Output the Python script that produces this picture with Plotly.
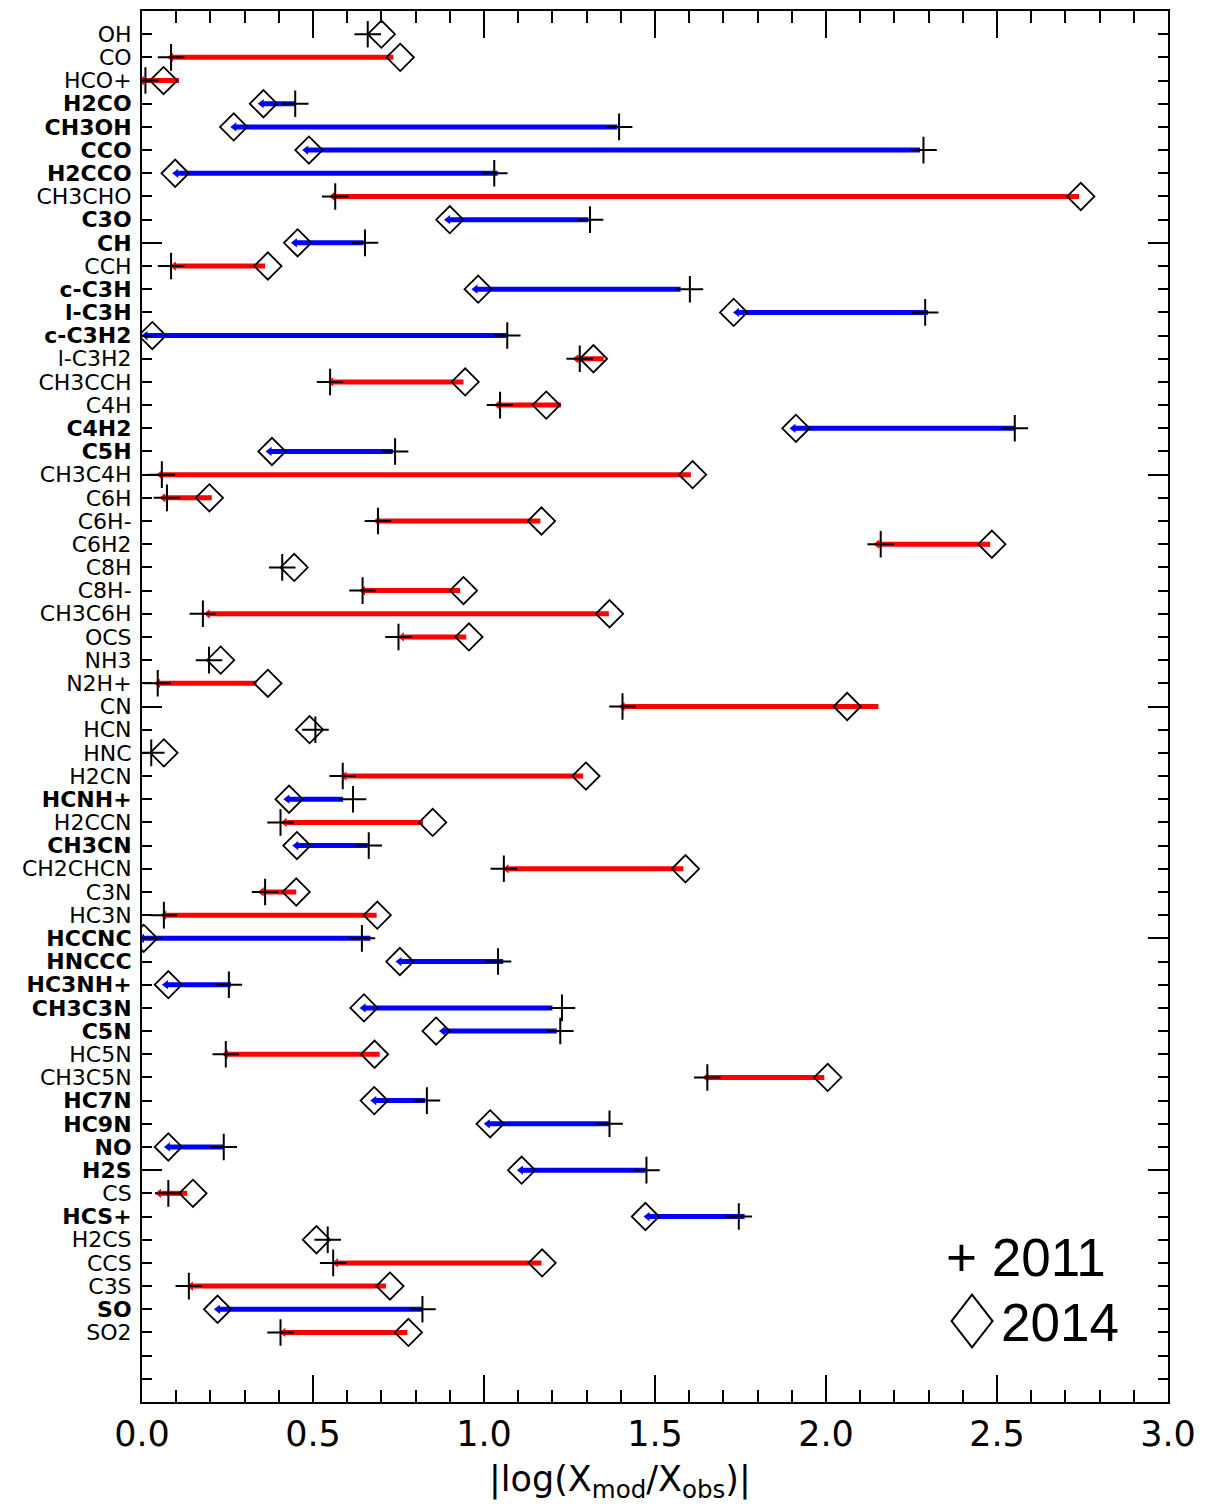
import plotly.graph_objects as go

# ---------------- data ----------------
species = ["OH", "CO", "HCO+", "H2CO", "CH3OH", "CCO", "H2CCO", "CH3CHO", "C3O", "CH",
           "CCH", "c-C3H", "l-C3H", "c-C3H2", "l-C3H2", "CH3CCH", "C4H", "C4H2", "C5H", "CH3C4H",
           "C6H", "C6H-", "C6H2", "C8H", "C8H-", "CH3C6H", "OCS", "NH3", "N2H+", "CN",
           "HCN", "HNC", "H2CN", "HCNH+", "H2CCN", "CH3CN", "CH2CHCN", "C3N", "HC3N", "HCCNC",
           "HNCCC", "HC3NH+", "CH3C3N", "C5N", "HC5N", "CH3C5N", "HC7N", "HC9N", "NO", "H2S",
           "CS", "HCS+", "H2CS", "CCS", "C3S", "SO", "SO2"]

# species shown in bold
bold_label = [0, 0, 0, 1, 1, 1, 1, 0, 1, 1,
              0, 1, 1, 1, 0, 0, 0, 1, 1, 0,
              0, 0, 0, 0, 0, 0, 0, 0, 0, 0,
              0, 0, 0, 1, 0, 1, 0, 0, 0, 1,
              1, 1, 1, 1, 0, 0, 1, 1, 1, 1,
              0, 1, 0, 0, 0, 1, 0]

x2011 = [0.66, 0.085, 0.010, 0.448, 1.395, 2.285, 1.030, 0.565, 1.310, 0.652,
         0.085, 1.602, 2.290, 1.068, 1.280, 0.550, 1.047, 2.552, 0.740, 0.058,
         0.073, 0.690, 2.160, 0.410, 0.645, 0.178, 0.750, 0.196, 0.046, 1.405,
         0.507, 0.027, 0.587, 0.617, 0.405, 0.663, 1.058, 0.360, 0.064, 0.643,
         1.041, 0.254, 1.228, 1.223, 0.245, 1.653, 0.833, 1.367, 0.239, 1.475,
         0.077, 1.745, 0.543, 0.559, 0.137, 0.820, 0.405]

x2014 = [0.70, 0.755, 0.063, 0.355, 0.268, 0.488, 0.097, 2.745, 0.900, 0.455,
         0.368, 0.983, 1.730, 0.030, 1.320, 0.945, 1.182, 1.912, 0.380, 1.610,
         0.197, 1.168, 2.485, 0.445, 0.940, 1.367, 0.956, 0.230, 0.368, 2.062,
         0.490, 0.064, 1.298, 0.430, 0.850, 0.453, 1.589, 0.451, 0.688, 0.005,
         0.754, 0.077, 0.649, 0.860, 0.680, 2.005, 0.679, 1.018, 0.077, 1.110,
         0.149, 1.472, 0.510, 1.170, 0.725, 0.221, 0.779]

# arrow segments (left end = arrow head, right end = tail); None = no arrow
arrow_lo = [None, 0.085, 0.000, 0.350, 0.270, 0.480, 0.100, 0.558, 0.895, 0.447,
            0.093, 0.975, 1.740, 0.010, 1.270, 0.553, 1.040, 1.905, 0.373, 0.053,
            0.062, 0.688, 2.150, None, 0.646, 0.192, 0.760, None, 0.047, 1.405,
            None, None, 0.592, 0.425, 0.417, 0.451, 1.066, 0.350, 0.065, 0.000,
            0.753, 0.070, 0.648, 0.880, 0.245, 1.650, 0.679, 1.011, 0.076, 1.108,
            0.050, 1.478, None, 0.567, 0.143, 0.222, 0.413]

arrow_hi = [None, 0.735, 0.108, 0.448, 1.390, 2.275, 1.040, 2.740, 1.305, 0.648,
            0.360, 1.575, 2.298, 1.065, 1.350, 0.940, 1.225, 2.550, 0.733, 1.605,
            0.204, 1.165, 2.480, None, 0.930, 1.365, 0.948, None, 0.335, 2.153,
            None, None, 1.290, 0.588, 0.822, 0.660, 1.583, 0.451, 0.686, 0.668,
            1.056, 0.260, 1.200, 1.213, 0.695, 1.995, 0.828, 1.365, 0.238, 1.472,
            0.132, 1.762, None, 1.168, 0.713, 0.821, 0.776]

x_ticks = [0.0, 0.5, 1.0, 1.5, 2.0, 2.5, 3.0]
x_ticklabels = ["0.0", "0.5", "1.0", "1.5", "2.0", "2.5", "3.0"]
legend_labels = ["2011", "2014"]

# ---------------- build ----------------
rows = list(range(len(species)))
n_rows_total = len(species) + 2          # two empty rows below the last species
y_range = [n_rows_total, -1]

red_x, red_y, blue_x, blue_y = [], [], [], []
red_hx, red_hy, blue_hx, blue_hy = [], [], [], []
for i in rows:
    if arrow_lo[i] is None:
        continue
    if x2014[i] > x2011[i]:
        red_x += [arrow_hi[i], arrow_lo[i], None]; red_y += [i, i, None]
        red_hx.append(arrow_lo[i]); red_hy.append(i)
    else:
        blue_x += [arrow_hi[i], arrow_lo[i], None]; blue_y += [i, i, None]
        blue_hx.append(arrow_lo[i]); blue_hy.append(i)

fig = go.Figure()
fig.add_trace(go.Scatter(x=red_x, y=red_y, mode="lines",
                         line=dict(color="#ff0000", width=5), hoverinfo="skip"))
fig.add_trace(go.Scatter(x=blue_x, y=blue_y, mode="lines",
                         line=dict(color="#0000ff", width=5), hoverinfo="skip"))
fig.add_trace(go.Scatter(x=red_hx, y=red_hy, mode="markers",
                         marker=dict(symbol="triangle-left", size=8, color="#ff0000",
                                     line=dict(width=0)), hoverinfo="skip"))
fig.add_trace(go.Scatter(x=blue_hx, y=blue_hy, mode="markers",
                         marker=dict(symbol="triangle-left", size=8, color="#0000ff",
                                     line=dict(width=0)), hoverinfo="skip"))
fig.add_trace(go.Scatter(x=x2011, y=rows, mode="markers", name=legend_labels[0],
                         marker=dict(symbol="cross-thin-open", size=19, color="black",
                                     line=dict(color="black", width=2))))
fig.add_trace(go.Scatter(x=x2014, y=rows, mode="markers", name=legend_labels[1],
                         marker=dict(symbol="diamond-open", size=21, color="black",
                                     line=dict(color="black", width=1.8))))
# helper trace for the overlay axis carrying the long y ticks
fig.add_trace(go.Scatter(x=[None], y=[None], yaxis="y2", mode="markers",
                         hoverinfo="skip"))

ticktext = [("<b>%s</b>" % s) if b else s for s, b in zip(species, bold_label)]

fig.update_layout(
    width=1206, height=1506,
    margin=dict(l=134, r=46, t=1, b=112),
    plot_bgcolor="white", paper_bgcolor="white",
    showlegend=False,
    font=dict(family="DejaVu Sans", color="black"),
    xaxis=dict(range=[0, 3.0], tickmode="array", tickvals=x_ticks, ticktext=x_ticklabels,
               ticks="inside", ticklen=27, tickwidth=2, tickcolor="black",
               minor=dict(dtick=0.1, tick0=0, ticks="inside", ticklen=12,
                          tickwidth=2, tickcolor="black"),
               showline=True, linewidth=2, linecolor="black", mirror="ticks",
               tickfont=dict(size=35, family="DejaVu Sans", color="black"),
               showgrid=False, zeroline=False),
    yaxis=dict(range=y_range, tickmode="array", tickvals=rows, ticktext=ticktext,
               ticks="inside", ticklen=10, tickwidth=2, tickcolor="black",
               minor=dict(dtick=1, tick0=0, ticks="inside", ticklen=10,
                          tickwidth=2, tickcolor="black"),
               ticklabelstandoff=4,
               showline=True, linewidth=2, linecolor="black", mirror="ticks",
               tickfont=dict(size=22, family="DejaVu Sans", color="black"),
               showgrid=False, zeroline=False),
    yaxis2=dict(range=y_range, overlaying="y", side="left", tickmode="array",
                tickvals=list(range(-1, n_rows_total + 1, 10)),
                ticks="inside", ticklen=20, tickwidth=2, tickcolor="black",
                showticklabels=False, showline=False, mirror="ticks",
                showgrid=False, zeroline=False),
)

# axis title
fig.add_annotation(text="|log(X<sub>mod</sub>/X<sub>obs</sub>)|", xref="paper", yref="paper",
                   x=0.466, y=-0.0575, xanchor="center", yanchor="middle", showarrow=False,
                   font=dict(size=35, family="DejaVu Sans", color="black"))

# legend
fig.add_annotation(text="+ " + legend_labels[0], xref="paper", yref="paper",
                   x=0.8616, y=0.1042, xanchor="center", yanchor="middle", showarrow=False,
                   font=dict(size=53, family="Liberation Sans", color="black"))
fig.add_annotation(text=legend_labels[1], xref="paper", yref="paper",
                   x=0.8952, y=0.0575, xanchor="center", yanchor="middle", showarrow=False,
                   font=dict(size=53, family="Liberation Sans", color="black"))
cx, cy, hw, hh = 0.809, 0.0582, 0.020, 0.019
fig.add_shape(type="path", xref="paper", yref="paper",
              path=f"M {cx-hw},{cy} L {cx},{cy+hh} L {cx+hw},{cy} L {cx},{cy-hh} Z",
              line=dict(color="black", width=2))

fig.write_html("out.html")
